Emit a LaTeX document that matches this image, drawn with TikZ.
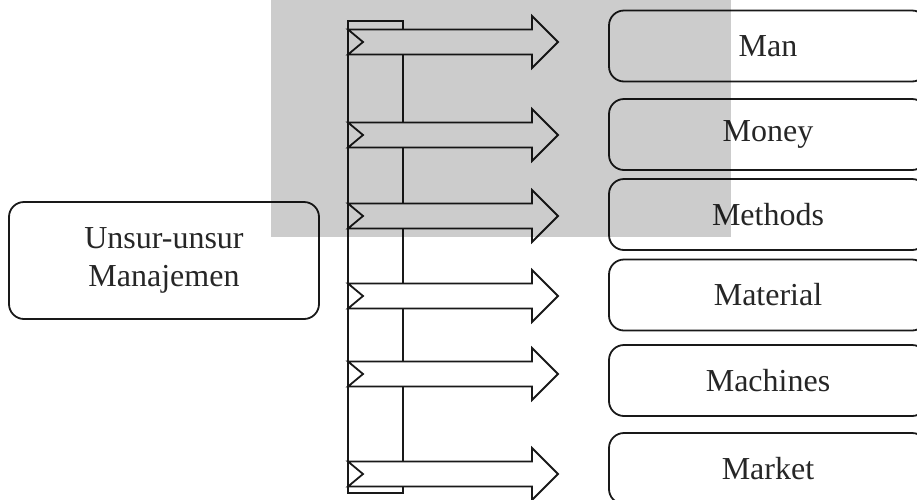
\documentclass[tikz,border=0pt]{standalone}
\usepackage{fontspec}
\setmainfont{Liberation Serif}
\begin{document}
\begin{tikzpicture}[x=0.5pt,y=-0.5pt,
  outline/.style={draw=black!90,line width=0.9pt},
  box/.style={outline,rounded corners=7.5pt,fill=white,align=center,
    text=black!85,font=\fontsize{16}{19}\selectfont,inner sep=0pt},
  itembox/.style={box,minimum width=159pt,minimum height=35.5pt},
  mainbox/.style={box,minimum width=155pt,minimum height=58.5pt},
  notcharrow/.pic={\draw[outline,fill=white,line join=miter]
     (0,-12.5) -- (184,-12.5) -- (184,-26) -- (210,0) -- (184,26)
     -- (184,12.5) -- (0,12.5) -- (15,0) -- cycle;},
  watermark/.style={fill=black!20,blend mode=multiply}]
\useasboundingbox (0,0) rectangle (917,499);
\clip (0,0) rectangle (917,499);
% main box
\node[mainbox] (main) at (164,260.5) {Unsur-unsur\\Manajemen};
% right boxes
\node[itembox] (man) at (768,46) {Man};
\node[itembox] (money) at (768,134.5) {Money};
\node[itembox] (methods) at (768,214.5) {Methods};
\node[itembox] (material) at (768,295) {Material};
\node[itembox] (machines) at (768,380.5) {Machines};
\node[itembox] (market) at (768,468.5) {Market};
% bracket bar
\draw[outline] (348,21) rectangle (403,493);
% block arrows
\coordinate (a1) at (348,42);
\coordinate (a2) at (348,135);
\coordinate (a3) at (348,216);
\coordinate (a4) at (348,296);
\coordinate (a5) at (348,374);
\coordinate (a6) at (348,474);
\foreach \a in {a1,a2,a3,a4,a5,a6} \pic at (\a) {notcharrow};
% grey watermark band
\path[watermark] (271,0) rectangle (731,237);
\end{tikzpicture}
\end{document}
